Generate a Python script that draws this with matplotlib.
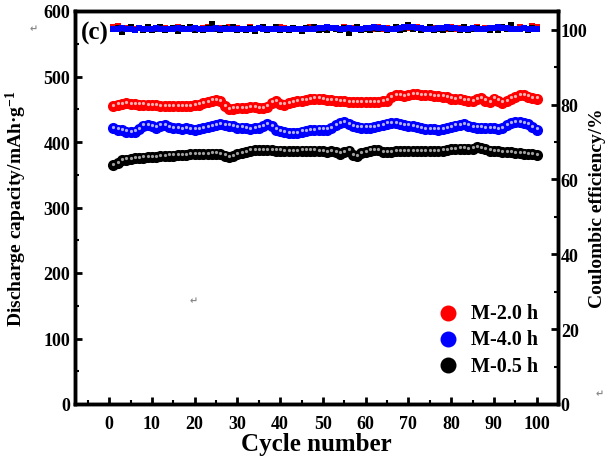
import numpy as np
from matplotlib import pyplot as plt

plt.rcParams['font.family'] = ['Liberation Serif', 'DejaVu Sans']
plt.rcParams['font.weight'] = 'bold'
plt.rcParams['mathtext.default'] = 'regular'

cycles = np.arange(1, 101)

cap_2h = [455, 457, 458, 459, 458, 458, 457, 457, 456, 456,
          456, 455, 455, 455, 455, 455, 455, 455, 455, 456,
          457, 459, 461, 463, 464, 462, 455, 450, 451, 452,
          452, 452, 453, 453, 452, 452, 454, 460, 462, 458,
          457, 459, 461, 462, 463, 464, 465, 466, 466, 465,
          464, 464, 463, 462, 462, 461, 461, 461, 461, 461,
          461, 461, 461, 462, 463, 468, 471, 471, 470, 472,
          473, 473, 472, 472, 471, 470, 470, 469, 468, 466,
          465, 466, 464, 463, 462, 465, 467, 463, 461, 466,
          463, 460, 462, 466, 468, 472, 471, 469, 467, 466]

cap_4h = [421, 419, 418, 416, 415, 416, 420, 425, 426, 424,
          422, 425, 426, 423, 421, 421, 420, 421, 420, 419,
          420, 421, 423, 424, 426, 427, 426, 425, 424, 422,
          422, 421, 420, 421, 422, 424, 427, 424, 419, 417,
          415, 413, 413, 414, 416, 417, 418, 418, 419, 419,
          419, 421, 426, 429, 430, 427, 424, 423, 422, 422,
          422, 423, 424, 426, 428, 429, 429, 427, 426, 425,
          424, 423, 421, 420, 420, 420, 419, 420, 421, 423,
          425, 426, 427, 425, 423, 422, 422, 421, 421, 421,
          420, 421, 426, 429, 430, 430, 429, 427, 423, 419]

cap_05h = [365, 368, 372, 373, 374, 375, 375, 376, 377, 377,
           377, 378, 378, 379, 379, 380, 380, 380, 381, 381,
           381, 381, 381, 382, 382, 381, 379, 377, 378, 381,
           383, 385, 387, 388, 388, 388, 388, 388, 387, 387,
           386, 386, 386, 386, 387, 387, 387, 387, 386, 386,
           385, 386, 384, 382, 385, 387, 380, 378, 383, 385,
           387, 388, 388, 385, 384, 385, 386, 386, 386, 386,
           386, 386, 386, 386, 386, 386, 386, 387, 388, 389,
           389, 390, 390, 389, 390, 392, 391, 389, 387, 386,
           386, 385, 384, 384, 383, 383, 382, 381, 381, 380]

ce_2h = [100.6, 100.9, 100.2, 100.4, 100.1, 100.3, 100.5, 100.2, 100.6, 100.3,
         100.4, 100.1, 100.5, 100.3, 100.2, 100.6, 100.4, 100.3, 100.1, 100.5,
         100.2, 100.4, 100.6, 100.3, 100.1, 100.5, 100.2, 100.7, 100.3, 100.4,
         100.1, 100.3, 100.6, 100.2, 100.4, 100.5, 100.1, 100.3, 100.2, 100.6,
         100.4, 100.2, 100.5, 100.3, 100.1, 100.4, 100.6, 100.2, 100.3, 100.5,
         100.2, 100.4, 100.1, 100.3, 100.6, 100.2, 100.4, 100.5, 100.3, 100.1,
         100.4, 100.2, 100.6, 100.3, 100.5, 100.2, 100.4, 100.1, 100.3, 100.5,
         100.2, 100.6, 100.4, 100.3, 100.1, 100.5, 100.2, 100.4, 100.3, 100.6,
         100.2, 100.4, 100.5, 100.1, 100.3, 100.6, 100.2, 100.4, 100.3, 100.5,
         100.2, 100.4, 100.1, 100.5, 100.3, 100.6, 100.4, 100.2, 100.9, 100.7]

ce_05h = [100.2, 100.5, 99.3, 100.1, 100.6, 99.9, 100.4, 100.0, 100.8, 99.8,
          100.3, 100.7, 99.9, 100.2, 100.5, 99.7, 100.4, 100.1, 100.6, 100.0,
          100.3, 99.8, 100.5, 101.6, 100.2, 99.9, 100.4, 100.1, 100.7, 99.8,
          100.3, 100.0, 100.5, 99.6, 100.4, 100.8, 99.9, 100.2, 100.6, 100.0,
          100.3, 99.8, 100.5, 100.1, 99.7, 100.4, 100.2, 100.6, 99.9, 100.3,
          100.0, 100.5, 100.1, 99.8, 100.4, 99.1, 100.2, 100.6, 100.0, 100.3,
          99.9, 100.5, 100.1, 100.4, 99.8, 100.2, 100.7, 100.0, 100.3, 101.2,
          100.1, 100.4, 99.9, 100.2, 100.6, 100.0, 100.3, 99.8, 100.5, 100.1,
          100.4, 100.0, 100.6, 99.9, 100.2, 100.5, 100.1, 100.3, 99.8, 100.4,
          100.0, 100.6, 100.2, 101.3, 100.3, 100.1, 100.5, 100.0, 100.4, 100.2]

ce_4h = [100.3, 100.1, 100.4, 100.2, 100.3, 100.0, 100.4, 100.2, 100.3, 100.1,
         100.4, 100.2, 100.3, 100.1, 100.2, 100.4, 100.3, 100.1, 100.2, 100.4,
         100.3, 100.2, 100.1, 100.3, 100.4, 100.2, 100.3, 100.1, 100.2, 100.3,
         100.2, 100.3, 100.1, 100.2, 100.4, 100.2, 100.1, 100.3, 100.2, 100.1,
         100.2, 100.3, 100.1, 100.2, 100.3, 100.2, 100.1, 100.3, 100.4, 100.5,
         100.6, 100.5, 100.4, 100.3, 100.2, 100.4, 100.3, 100.2, 100.3, 100.4,
         100.5, 100.6, 100.5, 100.4, 100.3, 100.2, 100.3, 100.4, 100.6, 100.7,
         100.6, 100.5, 100.4, 100.3, 100.2, 100.3, 100.4, 100.5, 100.6, 100.5,
         100.4, 100.3, 100.2, 100.3, 100.4, 100.3, 100.2, 100.3, 100.4, 100.5,
         100.6, 100.5, 100.4, 100.3, 100.2, 100.3, 100.4, 100.3, 100.2, 100.3]

labels = ['M-2.0 h', 'M-4.0 h', 'M-0.5 h']
colors = ['#ff0000', '#0000ff', '#000000']
shine = ['#ffb0b0', '#b0b0ff', '#a0a0a0']

fig = plt.figure(figsize=(6.08, 4.64), dpi=100)
ax = fig.add_axes([75 / 608, 1 - 405 / 464, (558 - 75) / 608, (405 - 12) / 464])
ax2 = ax.twinx()

# coulombic efficiency on right axis
for ce, c in zip([ce_2h, ce_05h, ce_4h], ['#ff0000', '#000000', '#0000ff']):
    ax2.plot(cycles, ce, 's', color=c, markersize=4, markeredgewidth=0)

# capacity on left axis
handles = []
for cap, c, s, lab in zip([cap_2h, cap_4h, cap_05h], colors, shine, labels):
    ax.plot(cycles, cap, 'o', color=c, markersize=8, markeredgewidth=0)
    ax.plot(cycles, np.array(cap) + 2, 'o', color=s, markersize=2.3, markeredgewidth=0)
    h = ax.scatter([], [], s=110, color=c, label=lab)
    handles.append(h)

ax.set_zorder(ax2.get_zorder() + 1)
ax.patch.set_visible(False)

ax.set_xlim(-8, 105)
ax.set_ylim(0, 600)
ax2.set_ylim(0, 105)
ax.set_xticks(np.arange(0, 101, 10))
ax.set_xticks(np.arange(-5, 105, 5), minor=True)
ax.set_yticks(np.arange(0, 601, 100))
ax.set_yticks(np.arange(50, 600, 50), minor=True)
ax2.set_yticks(np.arange(0, 101, 20))
ax2.set_yticks(np.arange(10, 105, 20), minor=True)

for a in (ax, ax2):
    a.tick_params(which='major', direction='in', length=5, width=2, labelsize=13)
    a.tick_params(which='minor', direction='in', length=3, width=1.5)
    for sp in a.spines.values():
        sp.set_linewidth(2.5)
ax.tick_params(axis='x', pad=8)
ax2.tick_params(axis='y', pad=2)

ax.set_xlabel('Cycle number', fontsize=18, fontweight='bold', labelpad=0)
ax.set_ylabel('Discharge capacity/mAh\u00b7g$^{-1}$', fontsize=14, fontweight='bold', labelpad=10)
ax2.set_ylabel('Coulombic efficiency/%', fontsize=14, fontweight='bold', labelpad=1)

ax.text(0.012, 0.975, '(c)', transform=ax.transAxes, fontsize=18, fontweight='bold', va='top')

ax.legend(handles=handles, loc='lower right', bbox_to_anchor=(0.975, 0.052), frameon=False,
          fontsize=14.5, handletextpad=0.15, labelspacing=0.3, borderaxespad=0)

fig.text(30 / 608, 1 - 32 / 464, '\u21b5', fontsize=7, color='#888888', family='DejaVu Sans')
fig.text(190 / 608, 1 - 304 / 464, '\u21b5', fontsize=7, color='#888888', family='DejaVu Sans')
fig.text(596 / 608, 1 - 397 / 464, '\u21b5', fontsize=7, color='#888888', family='DejaVu Sans')

fig.savefig('out.png', dpi=100)
